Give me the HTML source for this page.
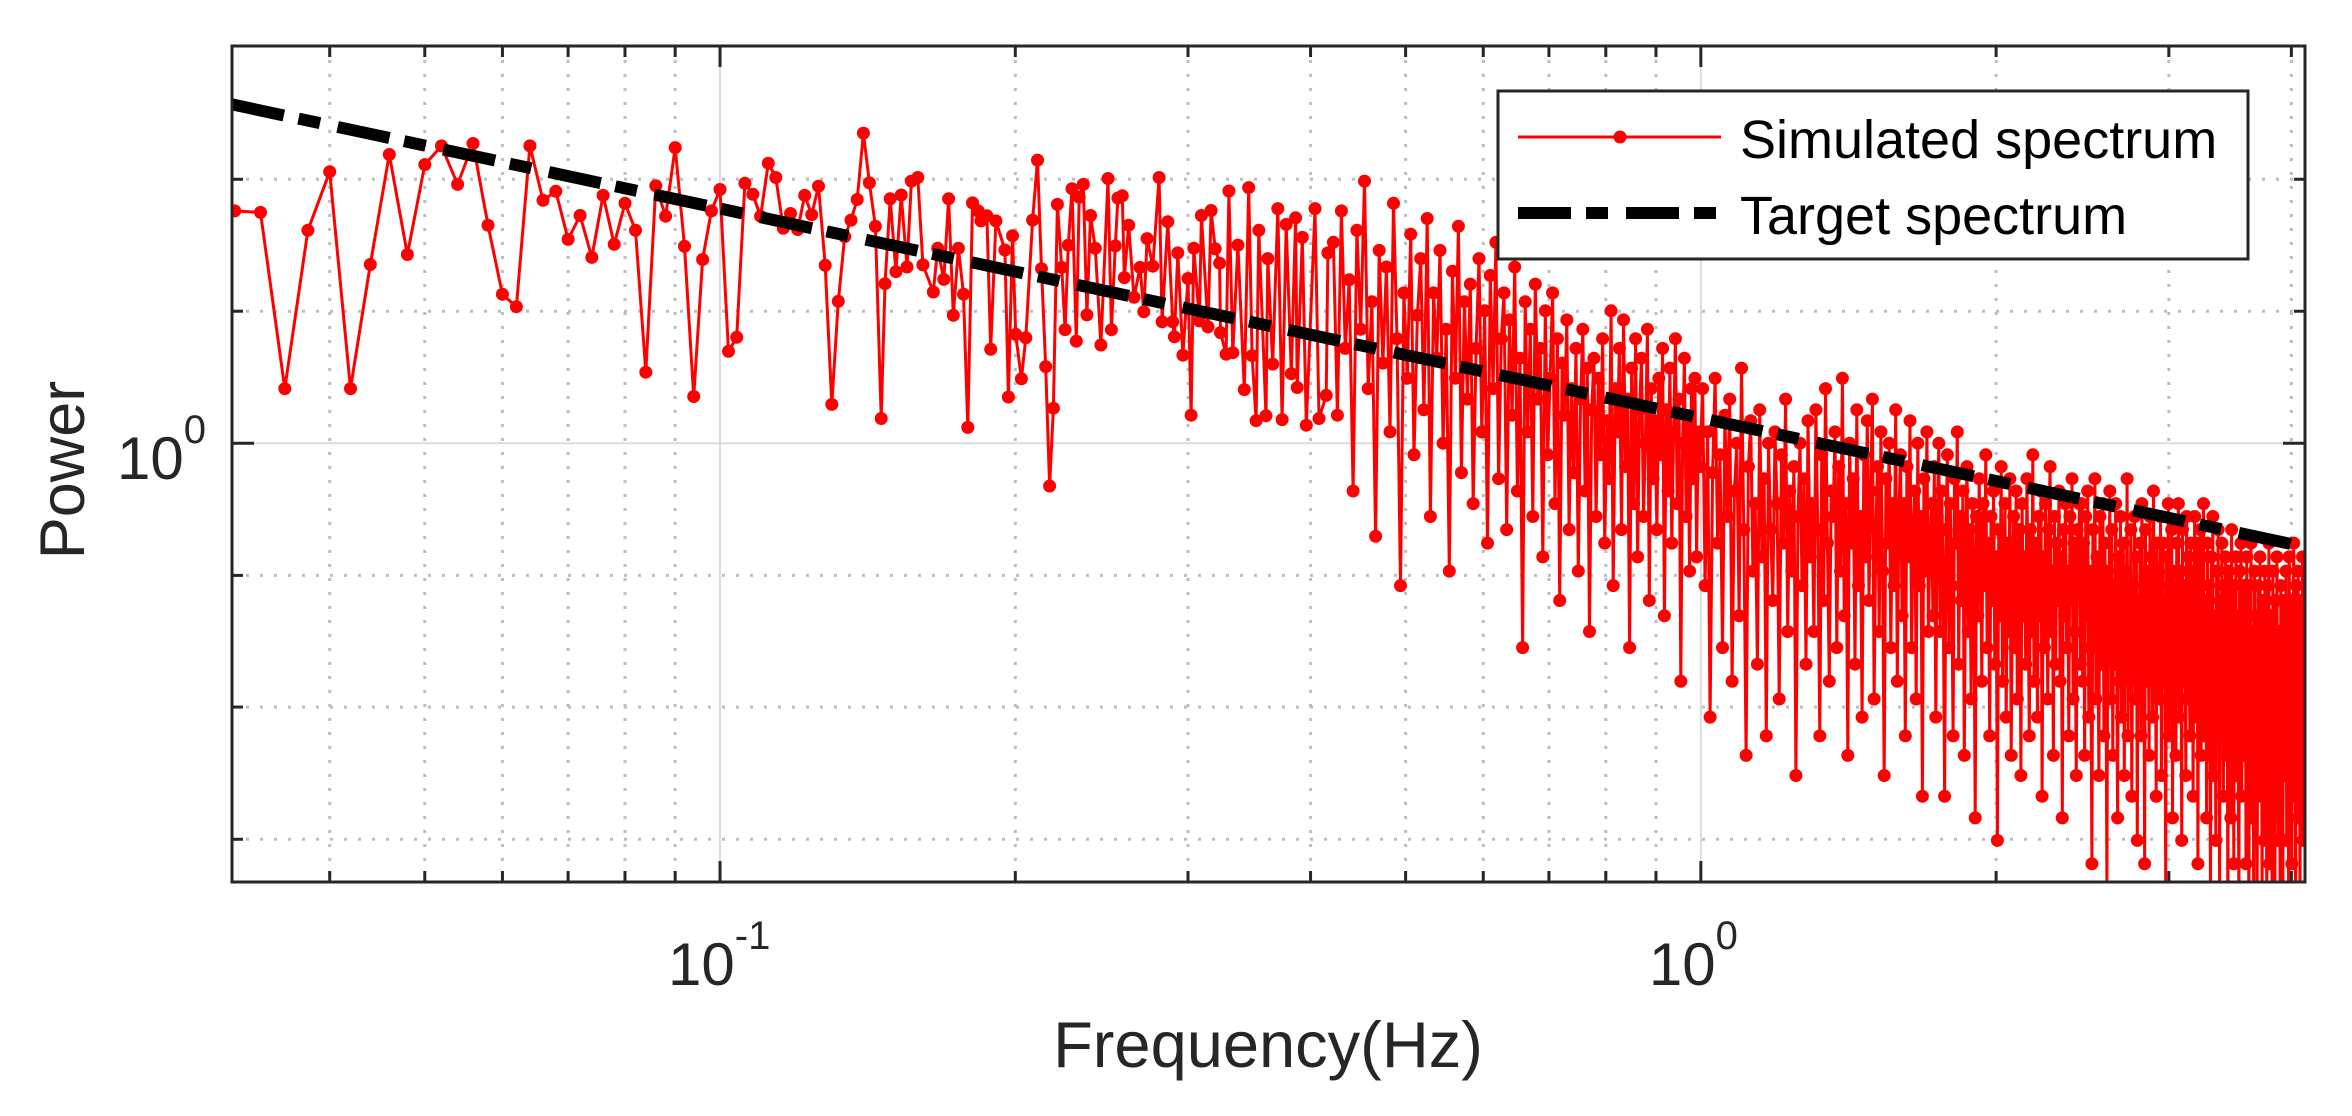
<!DOCTYPE html>
<html><head><meta charset="utf-8"><style>
html,body{margin:0;padding:0;background:#fff;}
svg{display:block;font-family:"Liberation Sans",Arial,sans-serif;}
</style></head><body>
<svg id="chart" width="2352" height="1116" viewBox="0 0 2352 1116" xmlns="http://www.w3.org/2000/svg">
<rect x="0" y="0" width="2352" height="1116" fill="#fff"/>
<defs><clipPath id="plotClip"><rect x="232" y="46" width="2073" height="836"/></clipPath></defs>
<g id="grid"></g>
<g id="ticks"></g>
<g clip-path="url(#plotClip)">
  <g id="sim"></g>
  <g id="target"></g>
</g>
<rect x="232" y="46" width="2073" height="836" fill="none" stroke="#262626" stroke-width="3"/>
<g id="labels" fill="#262626"></g>
<text x="1268" y="1067" font-size="65" text-anchor="middle" fill="#262626">Frequency(Hz)</text>
<text transform="translate(84,470) rotate(-90)" font-size="63" text-anchor="middle" fill="#262626">Power</text>
<g>
  <rect x="1498" y="91" width="750" height="168" fill="#fff" stroke="#262626" stroke-width="3"/>
  <line x1="1518" y1="137" x2="1721" y2="137" stroke="#ff0000" stroke-width="3"/>
  <circle cx="1620" cy="137" r="6.5" fill="#ff0000"/>
  <text x="1740" y="158" font-size="54" fill="#000">Simulated spectrum</text>
  <line x1="1518" y1="213" x2="1721" y2="213" stroke="#000" stroke-width="12" stroke-dasharray="53 15 22 18"/>
  <text x="1740" y="234" font-size="54" fill="#000">Target spectrum</text>
</g>
</svg>
<script>
// ---- data ----
const lowFreqs = [0.032,0.034,0.036,0.038,0.040,0.042,0.044,0.046,0.048,0.050,0.052,0.054,0.056,0.058,0.060,0.062,0.064,0.066,0.068,0.070,0.072,0.074,0.076,0.078,0.080,0.082,0.084,0.086,0.088,0.090,0.092,0.094,0.096,0.098,0.100,0.102,0.104,0.106,0.108,0.110,0.112,0.114,0.116,0.118,0.120,0.122,0.124,0.126,0.128,0.130,0.132,0.134,0.136,0.138,0.140,0.142,0.144];
const lowPower = [1.50,1.496,1.10,1.45,1.606,1.10,1.366,1.655,1.39,1.626,1.68,1.571,1.687,1.463,1.297,1.269,1.68,1.528,1.552,1.427,1.488,1.383,1.541,1.415,1.52,1.45,1.132,1.567,1.486,1.675,1.41,1.085,1.378,1.50,1.557,1.174,1.203,1.574,1.544,1.486,1.63,1.59,1.455,1.493,1.452,1.541,1.49,1.566,1.364,1.07,1.281,1.434,1.476,1.53,1.718,1.575,1.46];
const midFreqs = [0.146,0.1473,0.1491,0.1511,0.1530,0.1551,0.1567,0.1591,0.1610,0.1650,0.1667,0.1691,0.1710,0.1729,0.1750,0.1771,0.1789,0.1809,0.1833,0.1845,0.1871,0.1888,0.1911,0.1952,0.1968,0.1987,0.2002,0.2029,0.2050,0.2083,0.2107,0.2127,0.2148,0.2168,0.2187,0.2208,0.2230,0.2248,0.2265,0.2285,0.2308,0.2324,0.2346,0.2366,0.2386,0.2413,0.2445,0.2486,0.2506,0.2529,0.2545,0.2571,0.2583,0.2610,0.2643,0.2681,0.2704,0.2725,0.2762,0.2803,0.2823,0.2861,0.2894,0.2906,0.2929,0.2964,0.3000,0.3022,0.3041,0.3081,0.3096,0.3144,0.3167,0.3198,0.3231,0.3238,0.3281,0.3302,0.3333,0.3373,0.3424,0.3459,0.3487,0.3520,0.3542,0.3603,0.3618,0.3660,0.3704,0.3742,0.3778,0.3823,0.3862,0.3877,0.3923,0.3960,0.4042,0.4080,0.4150,0.4166];
const midPower = [1.044,1.321,1.532,1.349,1.542,1.360,1.580,1.590,1.365,1.302,1.405,1.331,1.532,1.250,1.405,1.297,1.028,1.521,1.500,1.474,1.487,1.178,1.474,1.401,1.084,1.436,1.209,1.119,1.202,1.476,1.639,1.356,1.143,0.928,1.063,1.517,1.359,1.219,1.413,1.559,1.195,1.536,1.571,1.251,1.488,1.405,1.187,1.587,1.219,1.411,1.534,1.540,1.335,1.463,1.290,1.359,1.258,1.429,1.362,1.590,1.236,1.472,1.236,1.204,1.394,1.166,1.333,1.050,1.405,1.238,1.488,1.225,1.501,1.404,1.369,1.213,1.168,1.553,1.171,1.413,1.098,1.562,1.165,1.040,1.450,1.049,1.380,1.148,1.506,1.042,1.465,1.129,1.482,1.102,1.432,1.032,1.506,1.044,1.087,1.394];
const denseAStart = 0.422, denseAStep = 0.004;
const denseAPower = [
1.42,1.05,1.50,1.18,1.33,0.92,1.45,1.22,1.58,1.10,1.28,0.85,1.40,1.15,1.36,1.02,1.52,1.20,0.78,1.30,
1.12,1.44,0.98,1.25,1.38,1.06,1.48,0.88,1.30,1.16,1.40,1.00,1.22,0.80,1.35,1.12,1.46,0.95,1.28,1.08,
1.32,0.90,1.18,1.38,1.02,1.26,0.84,1.34,1.10,1.42,0.94,1.20,1.30,0.86,1.24,1.05,1.36,0.92,1.16,0.70,
1.28,1.02,1.22,0.88,1.32,1.08,1.18,0.82,1.26,0.98,1.12,1.30,0.90,1.20,0.76,1.15,1.05,1.24,0.86,1.10,
0.95,1.18,0.80,1.08,1.22,0.92,1.14,0.72,1.06,1.16,0.88,1.12,0.98,1.20,0.84,1.04,0.94,1.26,0.78,1.10,
1.02,1.18,0.86,1.24,0.96,1.08,0.70,1.14,0.90,1.20,0.82,1.06,1.16,0.88,1.00,1.22,0.76,1.10,0.94,1.04,
0.86,1.12,0.98,1.18,0.74,1.06,0.92,1.14,0.84,1.02,1.20,0.90,1.08,0.66,1.00,1.16,0.88,1.04,0.80,1.10,
0.94,1.12,0.82,1.02,0.96];
const denseBStart = 1.004, denseBStep = 0.006;
const denseBPower = [
1.10,0.78,1.02,0.62,0.95,1.12,0.84,0.98,0.70,1.05,0.88,1.08,0.66,0.92,1.00,0.74,1.14,0.86,0.58,0.96,
1.04,0.80,0.90,0.68,1.06,0.82,0.94,0.60,1.00,0.86,0.76,1.02,0.90,0.64,0.98,0.84,1.08,0.72,0.92,0.80,
0.96,0.56,0.88,1.00,0.78,0.94,0.68,1.04,0.82,0.90,0.72,1.06,0.86,0.60,0.98,0.76,1.10,0.84,0.66,0.92,
0.88,1.02,0.70,0.96,0.80,1.12,0.74,0.90,0.58,1.00,0.84,0.94,0.68,1.06,0.78,0.88,0.62,0.98,0.82,1.04,
0.76,0.92,1.08,0.64,0.86,0.96,0.72,1.02,0.80,0.56,0.94,0.84,1.00,0.70,0.90,0.78,1.06,0.66,0.88,0.98,
0.74,0.90,0.60,0.96,0.82,1.04,0.70,0.86,0.92,0.64,1.00,0.78,0.88,0.54,0.94,0.80,1.02,0.72,0.84,0.90,
0.74,0.96,0.62,0.88,1.00,0.72,0.92,0.80,0.54,0.86,0.98,0.70,0.90,0.78,0.60,0.94,0.84,1.02,0.68,0.88,
0.76,0.92,0.58,0.84,0.96,0.72,0.86,0.64,0.90,0.80,0.52,0.88,0.74,0.94,0.82,0.66,0.90,0.78,0.98,0.70,
0.84,0.60,0.88,0.76,0.92,0.68,0.82,0.50,0.86,0.74,0.96,0.66,0.80,0.90,0.62,0.84,0.72,0.94,0.58,0.78,
0.88,0.70,0.92,0.64,0.80,0.86,0.56,0.90,0.74,0.82,0.68,0.94,0.76,0.60,0.86,0.72,0.98,0.66,0.84,0.78,
0.62,0.88,0.74,0.92,0.54,0.82,0.70,0.90,0.78,0.64,0.86,0.96,0.72,0.80,0.58,0.88,0.68,0.84,0.76,0.92,
0.66,0.82,0.52,0.86,0.74,0.90,0.70,0.80,0.60,0.88,0.76,0.94,0.64,0.84,0.72,0.56,0.86,0.78,0.90,0.68,
0.90,0.66,0.84,0.58,0.88,0.74,0.92,0.62,0.80,0.70,0.48,0.86,0.76,0.94,0.64,0.82,0.72,0.56,0.88,0.68,
0.78,0.90,0.60,0.84,0.70,0.46,0.80,0.74,0.92,0.64,0.86,0.58,0.78,0.68,0.90,0.72,0.52,0.82,0.66,0.88,
0.62,0.76,0.84,0.56,0.80,0.70,0.94,0.60,0.74,0.66,0.86,0.54,0.78,0.72,0.88,0.64,0.82,0.50,0.76,0.68,
0.84,0.60,0.90,0.70,0.78,0.48,0.86,0.66,0.80,0.74,0.58,0.88,0.72,0.82,0.62,0.92,0.68,0.76,0.54,0.84,
0.70,0.80,0.64,0.88,0.56,0.76,0.84,0.66,0.72,0.46,0.82,0.68,0.90,0.60,0.78,0.74,0.86,0.52,0.80,0.70,
0.76,0.58,0.84,0.68,0.90,0.62,0.72,0.80,0.50,0.86,0.66,0.78,0.74,0.56,0.88,0.64,0.82,0.70,0.60,0.84,
0.68,0.80,0.54,0.76,0.88,0.62,0.74,0.84,0.48,0.78,0.70,0.86,0.58,0.82,0.66,0.90,0.60,0.76,0.72,0.52,
0.84,0.58,0.78,0.68,0.44,0.82,0.64,0.88,0.56,0.74,0.70,0.50,0.80,0.62,0.86,0.66,0.46,0.76,0.60,0.84,
0.68,0.54,0.78,0.64,0.82,0.58,0.72,0.42,0.80,0.66,0.76,0.52,0.86,0.62,0.70,0.48,0.78,0.64,0.82,0.56,
0.74,0.60,0.44,0.80,0.68,0.84,0.54,0.72,0.62,0.78,0.58,0.76,0.48,0.82,0.64,0.70,0.42,0.78,0.60,0.84,
0.52,0.72,0.66,0.40,0.80,0.56,0.74,0.62,0.46,0.78,0.68,0.54,0.82,0.60,0.72,0.44,0.76,0.64,0.50,0.80,
0.58,0.70,0.42,0.78,0.62,0.84,0.48,0.68,0.56,0.74,0.40,0.80,0.60,0.66,0.46,0.76,0.54,0.82,0.64,0.50,
0.72,0.58,0.44,0.78,0.62,0.68,0.42,0.76,0.56,0.70,0.60,0.80,0.50,0.74,0.64,0.46,0.82,0.58,0.70,0.66,
0.48,0.76,0.62,0.84,0.54,0.72,0.40,0.78,0.66,0.60,0.80,0.52,0.70,0.44,0.76,0.64,0.58,0.82,0.50,0.68,
0.62,0.74];
const targetCoef = 1.045;
const targetExponent = 0.1587;
const xDomain = [0.0318, 4.13];
const yDomain = [0.465, 2.0];
const xMajorTicks = [0.1, 1];
const xMajorLabels = ["-1", "0"];
const xMinorTicks = [0.04,0.05,0.06,0.07,0.08,0.09,0.2,0.3,0.4,0.5,0.6,0.7,0.8,0.9,2,3,4];
const yGridValues = [0.501,0.631,0.794,1.259,1.585];
const yMajorTicks = [1];
const yMajorLabels = ["0"];

// ---- scales ----
const PL=232, PR=2305, PT=46, PB=882;
function xs(f){ const a=Math.log10(xDomain[0]), b=Math.log10(xDomain[1]); return PL+(Math.log10(f)-a)/(b-a)*(PR-PL); }
function ys(p){ const a=Math.log10(yDomain[0]), b=Math.log10(yDomain[1]); return PB-(Math.log10(p)-a)/(b-a)*(PB-PT); }
const NS="http://www.w3.org/2000/svg";
function mk(tag, attrs, parent){ const e=document.createElementNS(NS,tag); for(const k in attrs) e.setAttribute(k,attrs[k]); parent.appendChild(e); return e; }

// grid
const grid=document.getElementById('grid');
xMinorTicks.forEach(v=>{ const x=xs(v);
  const l=mk('line',{x1:x,y1:PT,x2:x,y2:PB,stroke:'#bdbdbd','stroke-width':3,'stroke-dasharray':'3 11'},grid);
  
  
});
xMajorTicks.forEach(v=>{ const x=xs(v);
  const l=mk('line',{x1:x,y1:PT,x2:x,y2:PB,stroke:'#dcdcdc','stroke-width':2},grid);
  
  
});
yGridValues.forEach(v=>{ const y=ys(v);
  const l=mk('line',{x1:PL,y1:y,x2:PR,y2:y,stroke:'#bdbdbd','stroke-width':3,'stroke-dasharray':'3 11'},grid);
  
  
});
yMajorTicks.forEach(v=>{ const y=ys(v);
  const l=mk('line',{x1:PL,y1:y,x2:PR,y2:y,stroke:'#dcdcdc','stroke-width':2},grid);
  
  
});

// ticks
const ticks=document.getElementById('ticks');
function tick(x1,y1,x2,y2,name){ const t=mk('line',{x1:x1,y1:y1,x2:x2,y2:y2,stroke:'#262626','stroke-width':3},ticks);
  
   }
xMinorTicks.forEach(v=>{ const x=xs(v); tick(x,PB,x,PB-11,'x-minor-tick'); tick(x,PT,x,PT+11,'x-minor-tick'); });
xMajorTicks.forEach(v=>{ const x=xs(v); tick(x,PB,x,PB-21,'x-major-tick'); tick(x,PT,x,PT+21,'x-major-tick'); });
yGridValues.forEach(v=>{ const y=ys(v); tick(PL,y,PL+11,y,'y-minor-tick'); tick(PR,y,PR-11,y,'y-minor-tick'); });
yMajorTicks.forEach(v=>{ const y=ys(v); tick(PL,y,PL+22,y,'y-major-tick'); tick(PR,y,PR-22,y,'y-major-tick'); });

// tick labels
const labels=document.getElementById('labels');
xMajorTicks.forEach((v,i)=>{ const x=xs(v);
  const t=mk('text',{x:x-52,y:985,'font-size':60},labels);
  
  
  t.textContent='10';
  const s=mk('tspan',{dy:-36,'font-size':40},t); s.textContent=xMajorLabels[i];
});
yMajorTicks.forEach((v,i)=>{ const y=ys(v);
  const t=mk('text',{x:117,y:y+36,'font-size':60},labels);
  
  
  t.textContent='10';
  const s=mk('tspan',{dy:-36,'font-size':40},t); s.textContent=yMajorLabels[i];
});

// simulated series
const freqs=[], power=[];
lowFreqs.forEach((f,i)=>{ freqs.push(f); power.push(lowPower[i]); });
midFreqs.forEach((f,i)=>{ freqs.push(f); power.push(midPower[i]); });
denseAPower.forEach((p,i)=>{ freqs.push(denseAStart+i*denseAStep); power.push(p); });
denseBPower.forEach((p,i)=>{ freqs.push(denseBStart+i*denseBStep); power.push(p); });
const sim=document.getElementById('sim');
let d='M'+(PL-5)+' '+ys(power[0]).toFixed(1);
freqs.forEach((f,i)=>{ d+=' L'+xs(f).toFixed(1)+' '+ys(power[i]).toFixed(1); });
const path=mk('path',{d:d,fill:'none',stroke:'#ff0000','stroke-width':3,'stroke-linejoin':'round'},sim);


freqs.forEach((f,i)=>{
  const c=mk('circle',{cx:xs(f).toFixed(1),cy:ys(power[i]).toFixed(1),r:6.5,fill:'#ff0000'},sim);
  
  
});

// target series
const target=document.getElementById('target');
const f0=xDomain[0], f1=xDomain[1];
const tl=mk('line',{x1:xs(f0),y1:ys(targetCoef*Math.pow(f0,-targetExponent)),x2:xs(f1),y2:ys(targetCoef*Math.pow(f1,-targetExponent)),stroke:'#000','stroke-width':12,'stroke-dasharray':'53 15 22 18'},target);


</script>
</body></html>
